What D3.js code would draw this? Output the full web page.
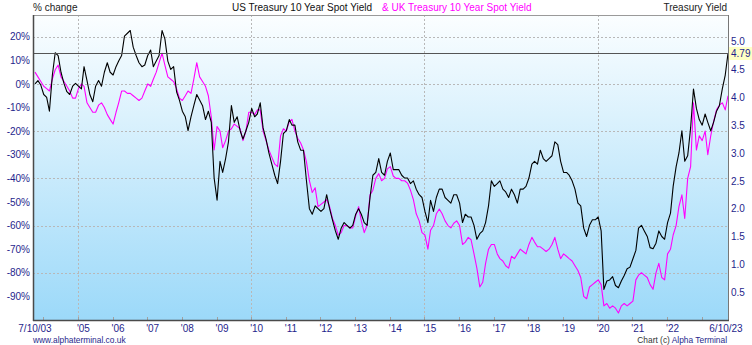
<!DOCTYPE html>
<html><head><meta charset="utf-8">
<script src="https://cdn.jsdelivr.net/npm/d3@7/dist/d3.min.js"></script>
<style>
body{margin:0;background:#fff}
svg{display:block;font-family:"Liberation Sans",Arial,sans-serif}
</style>
</head><body>
<svg id="chart" width="752" height="345"></svg>
<script>
// ---------------- data ----------------
const startDate = "2003-10-07";
const endDate = "2023-10-06";
// US Treasury 10 Year Spot Yield, monthly readings (right axis, %)
const usYield = [
  4.24,4.30,4.22,
  4.05,4.00,3.75,4.40,4.80,4.75,4.45,4.25,4.10,4.05,4.20,4.25,
  4.20,4.15,4.55,4.30,4.05,3.92,4.20,4.30,4.20,4.45,4.62,4.45,
  4.40,4.55,4.65,4.75,5.10,5.15,5.20,4.90,4.75,4.62,4.55,4.58,
  4.75,4.85,4.55,4.65,4.75,5.20,5.05,4.65,4.50,4.55,4.10,3.95,
  3.75,3.65,3.40,3.65,3.85,4.05,3.95,3.85,3.60,3.75,3.55,2.55,
  2.15,2.85,2.65,2.90,3.20,3.85,3.55,3.65,3.40,3.25,3.40,3.55,
  3.80,3.65,3.70,3.90,3.45,3.25,3.00,2.80,2.60,2.45,2.85,3.35,
  3.40,3.60,3.50,3.50,3.20,3.05,3.05,2.50,2.00,1.90,2.05,2.00,
  1.95,2.00,2.25,2.00,1.80,1.60,1.45,1.65,1.75,1.70,1.65,1.70,
  1.90,2.00,1.90,1.75,1.70,2.20,2.60,2.65,2.90,2.65,2.60,2.85,
  3.00,2.70,2.70,2.70,2.60,2.55,2.55,2.45,2.50,2.35,2.25,2.20,
  1.95,1.75,2.15,1.95,2.20,2.35,2.35,2.20,2.15,2.10,2.25,2.25,
  2.10,1.75,1.90,1.85,1.85,1.70,1.45,1.55,1.60,1.75,2.05,2.50,
  2.40,2.45,2.50,2.35,2.30,2.20,2.35,2.25,2.10,2.35,2.35,2.40,
  2.55,2.80,2.85,2.80,3.05,2.90,2.85,2.90,2.95,3.20,3.15,2.85,
  2.65,2.65,2.60,2.50,2.35,2.10,2.05,1.65,1.50,1.70,1.80,1.80,
  1.85,1.60,0.55,0.70,0.72,0.78,0.62,0.58,0.70,0.80,0.92,0.95,
  1.10,1.25,1.65,1.70,1.60,1.50,1.30,1.28,1.38,1.60,1.50,1.45,
  1.75,1.92,2.40,2.75,3.00,3.40,2.85,2.95,3.45,4.15,3.80,3.60,
  3.50,3.70,3.55,3.40,3.55,3.75,3.85,4.15,4.40,4.79
];
// UK Treasury 10 Year Spot Yield, % change since start (left axis)
const ukChange = [
  5,3,1,
  -1,-2,-3,2,6,8,3,1,-1,-3,-6,-6,
  -2,0,-1,-8,-10,-12,-12,-9,-8,-10,-13,-15,
  -17,-12,-8,-3,-3,-4,-4,-5,-6,-7,-6,-3,
  0,-1,2,5,9,13,8,3,2,1,-2,-6,
  -7,-5,-3,-4,2,9,3,1,-1,-5,-14,-28,
  -18,-20,-27,-24,-20,-19,-17,-18,-19,-24,-20,-12,
  -12,-13,-11,-11,-20,-24,-28,-31,-34,-35,-22,-19,
  -20,-16,-15,-20,-23,-25,-28,-33,-41,-46,-44,-52,
  -51,-50,-49,-52,-57,-60,-64,-63,-60,-60,-61,-61,
  -56,-52,-58,-63,-60,-47,-45,-40,-38,-41,-40,-36,
  -35,-39,-40,-40,-41,-41,-42,-45,-49,-55,-58,-63,
  -64,-70,-62,-60,-55,-53,-55,-58,-60,-61,-59,-58,
  -60,-68,-67,-65,-66,-72,-78,-86,-84,-76,-70,-68,
  -68,-72,-74,-75,-77,-78,-73,-74,-72,-70,-71,-72,
  -68,-65,-67,-69,-69,-70,-71,-70,-68,-65,-70,-74,
  -72,-73,-74,-75,-77,-79,-82,-90,-91,-86,-85,-84,
  -83,-85,-94,-93,-95,-94,-95,-97,-94,-93,-94,-93,
  -92,-83,-81,-80,-81,-82,-85,-87,-80,-76,-82,-83,
  -72,-70,-64,-60,-52,-47,-57,-40,-35,-8,-28,-22,
  -24,-20,-30,-22,-16,-11,-9,-8,-11,-5
];
const pctTicks = [20,10,0,-10,-20,-30,-40,-50,-60,-70,-80,-90];
const pctGrid = [20,0,-20,-40,-60,-80];
const yieldTicks = [5.0,4.5,4.0,3.5,3.0,2.5,2.0,1.5,1.0,0.5];
const yearLabels = [2005,2006,2007,2008,2009,2010,2011,2012,2013,2014,2015,2016,2017,2018,2019,2020,2021,2022];
const yearTickMarks = [2004,2005,2006,2007,2008,2009,2010,2011,2012,2013,2014,2015,2016,2017,2018,2019,2020,2021,2022,2023];
const gridYears = [2005,2010,2015,2020];
const pctDomain = [-100, 29.2];

// ---------------- layout ----------------
const L = 33, R = 728, T = 15, B = 320;
const navy = "#1f1f8c";
const svg = d3.select("#chart");
const parse = d3.timeParse("%Y-%m-%d");
const start = parse(startDate), end = parse(endDate);
const n = usYield.length;
const dates = usYield.map((_, i) => i === n - 1 ? end : d3.timeMonth.offset(start, i));

const x = d3.scaleTime().domain([start, end]).range([35, R]);
const yPct = d3.scaleLinear().domain(pctDomain).range([B, T]);
const usBase = usYield[0];
const yYield = d3.scaleLinear().domain([0, usBase * (1 + pctDomain[1] / 100)]).range([B, T]);

// background gradient
const defs = svg.append("defs");
const g = defs.append("linearGradient").attr("id", "bg").attr("x1", 0).attr("y1", 0).attr("x2", 0).attr("y2", 1);
g.append("stop").attr("offset", "0%").attr("stop-color", "#fbfeff");
g.append("stop").attr("offset", "100%").attr("stop-color", "#9cd9f9");
defs.append("clipPath").attr("id", "clip").append("rect").attr("x", L).attr("y", T).attr("width", R - L).attr("height", B - T);

svg.append("rect").attr("x", L).attr("y", T).attr("width", R - L).attr("height", B - T).attr("fill", "url(#bg)");

// grid
svg.append("g").selectAll("line").data(pctGrid).join("line")
  .attr("x1", L).attr("x2", R).attr("y1", d => Math.round(yPct(d)) + 0.5).attr("y2", d => Math.round(yPct(d)) + 0.5)
  .attr("stroke", "#b8b8b8").attr("stroke-dasharray", "2,2");
svg.append("g").selectAll("line").data(gridYears).join("line")
  .attr("x1", d => Math.round(x(new Date(d, 0, 1))) + 0.5).attr("x2", d => Math.round(x(new Date(d, 0, 1))) + 0.5)
  .attr("y1", T).attr("y2", B)
  .attr("stroke", "#b8b8b8").attr("stroke-dasharray", "2,2");
// small year tick marks
svg.append("g").selectAll("line").data(yearTickMarks).join("line")
  .attr("x1", d => Math.round(x(new Date(d, 0, 1))) + 0.5).attr("x2", d => Math.round(x(new Date(d, 0, 1))) + 0.5)
  .attr("y1", B - 3).attr("y2", B).attr("stroke", "#a0a0a0");

// lines
const plot = svg.append("g").attr("clip-path", "url(#clip)");
plot.append("path").datum(ukChange)
  .attr("fill", "none").attr("stroke", "#ff00ff").attr("stroke-width", 1.1).attr("stroke-linejoin", "round")
  .attr("d", d3.line().x((d, i) => x(dates[i])).y(d => yPct(d)));
plot.append("path").datum(usYield)
  .attr("fill", "none").attr("stroke", "#000").attr("stroke-width", 1.1).attr("stroke-linejoin", "round")
  .attr("d", d3.line().x((d, i) => x(dates[i])).y(d => yYield(d)));

// last value line
const last = usYield[n - 1];
const yl = Math.round(yYield(last)) + 0.5;
svg.append("line").attr("x1", L).attr("x2", R).attr("y1", yl).attr("y2", yl).attr("stroke", "#555").attr("stroke-width", 1);

// frame
svg.append("line").attr("x1", L).attr("x2", R).attr("y1", T + 0.5).attr("y2", T + 0.5).attr("stroke", "#9a9a9a");
svg.append("line").attr("x1", R + 0.5).attr("x2", R + 0.5).attr("y1", T).attr("y2", B).attr("stroke", "#777");
svg.append("line").attr("x1", L + 0.5).attr("x2", L + 0.5).attr("y1", T).attr("y2", B + 1).attr("stroke", "#4a4a4a").attr("stroke-width", 1.5);
svg.append("line").attr("x1", L).attr("x2", R + 1).attr("y1", B + 0.5).attr("y2", B + 0.5).attr("stroke", "#4a4a4a").attr("stroke-width", 1.5);

// left axis
const la = svg.append("g").attr("transform", `translate(${L},0)`)
  .call(d3.axisLeft(yPct).tickValues(pctTicks).tickFormat(d => d + "%").tickSize(0).tickPadding(3));
la.select(".domain").remove();
la.selectAll("text").attr("fill", navy).attr("font-size", 10).attr("font-family", "Liberation Sans, Arial, sans-serif");

// right axis
const ra = svg.append("g").attr("transform", `translate(${R},0)`)
  .call(d3.axisRight(yYield).tickValues(yieldTicks).tickFormat(d3.format(".1f")).tickSize(0).tickPadding(3));
ra.select(".domain").remove();
ra.selectAll("text").attr("fill", navy).attr("font-size", 10).attr("font-family", "Liberation Sans, Arial, sans-serif");

// last value label
svg.append("rect").attr("x", R + 1).attr("y", yl - 6.5).attr("width", 23).attr("height", 13).attr("fill", "#ffffc4");
svg.append("text").attr("x", R + 3).attr("y", yl).attr("dy", "0.35em").attr("fill", navy).attr("font-size", 10)
  .text(last.toFixed(2));

// bottom axis labels
const fmtYear = d3.timeFormat("'%y");
const fmtEnd = d3.timeFormat("%-d/%m/%y");
svg.append("g").selectAll("text").data(yearLabels).join("text")
  .attr("x", d => x(new Date(d, 0, 1)) - 1).attr("y", 332)
  .attr("fill", navy).attr("font-size", 10).attr("text-anchor", "start")
  .text(d => fmtYear(new Date(d, 0, 1)));
svg.append("text").attr("x", x(start)).attr("y", 332).attr("text-anchor", "middle").attr("fill", navy).attr("font-size", 10).text(fmtEnd(start));
svg.append("text").attr("x", x(end) - 2).attr("y", 332).attr("text-anchor", "middle").attr("fill", navy).attr("font-size", 10).text(fmtEnd(end));

// titles
svg.append("text").attr("x", L).attr("y", 11).attr("fill", "#222").attr("font-size", 10).text("% change");
const title = svg.append("text").attr("y", 11).attr("font-size", 10);
title.append("tspan").attr("x", 232).attr("fill", "#111").text("US Treasury 10 Year Spot Yield");
title.append("tspan").attr("x", 382).attr("fill", "#ff00ff").text("& UK Treasury 10 Year Spot Yield");
svg.append("text").attr("x", R - 1).attr("y", 11).attr("text-anchor", "end").attr("fill", "#222").attr("font-size", 10).text("Treasury Yield");

// footer
svg.append("text").attr("x", L).attr("y", 343).attr("fill", navy).attr("font-size", 8.4).text("www.alphaterminal.co.uk");
const ft = svg.append("text").attr("x", R - 1).attr("y", 343).attr("text-anchor", "end").attr("font-size", 8.4);
ft.append("tspan").attr("fill", "#333").text("Chart (c) ");
ft.append("tspan").attr("fill", navy).text("Alpha Terminal");
</script>
</body></html>
